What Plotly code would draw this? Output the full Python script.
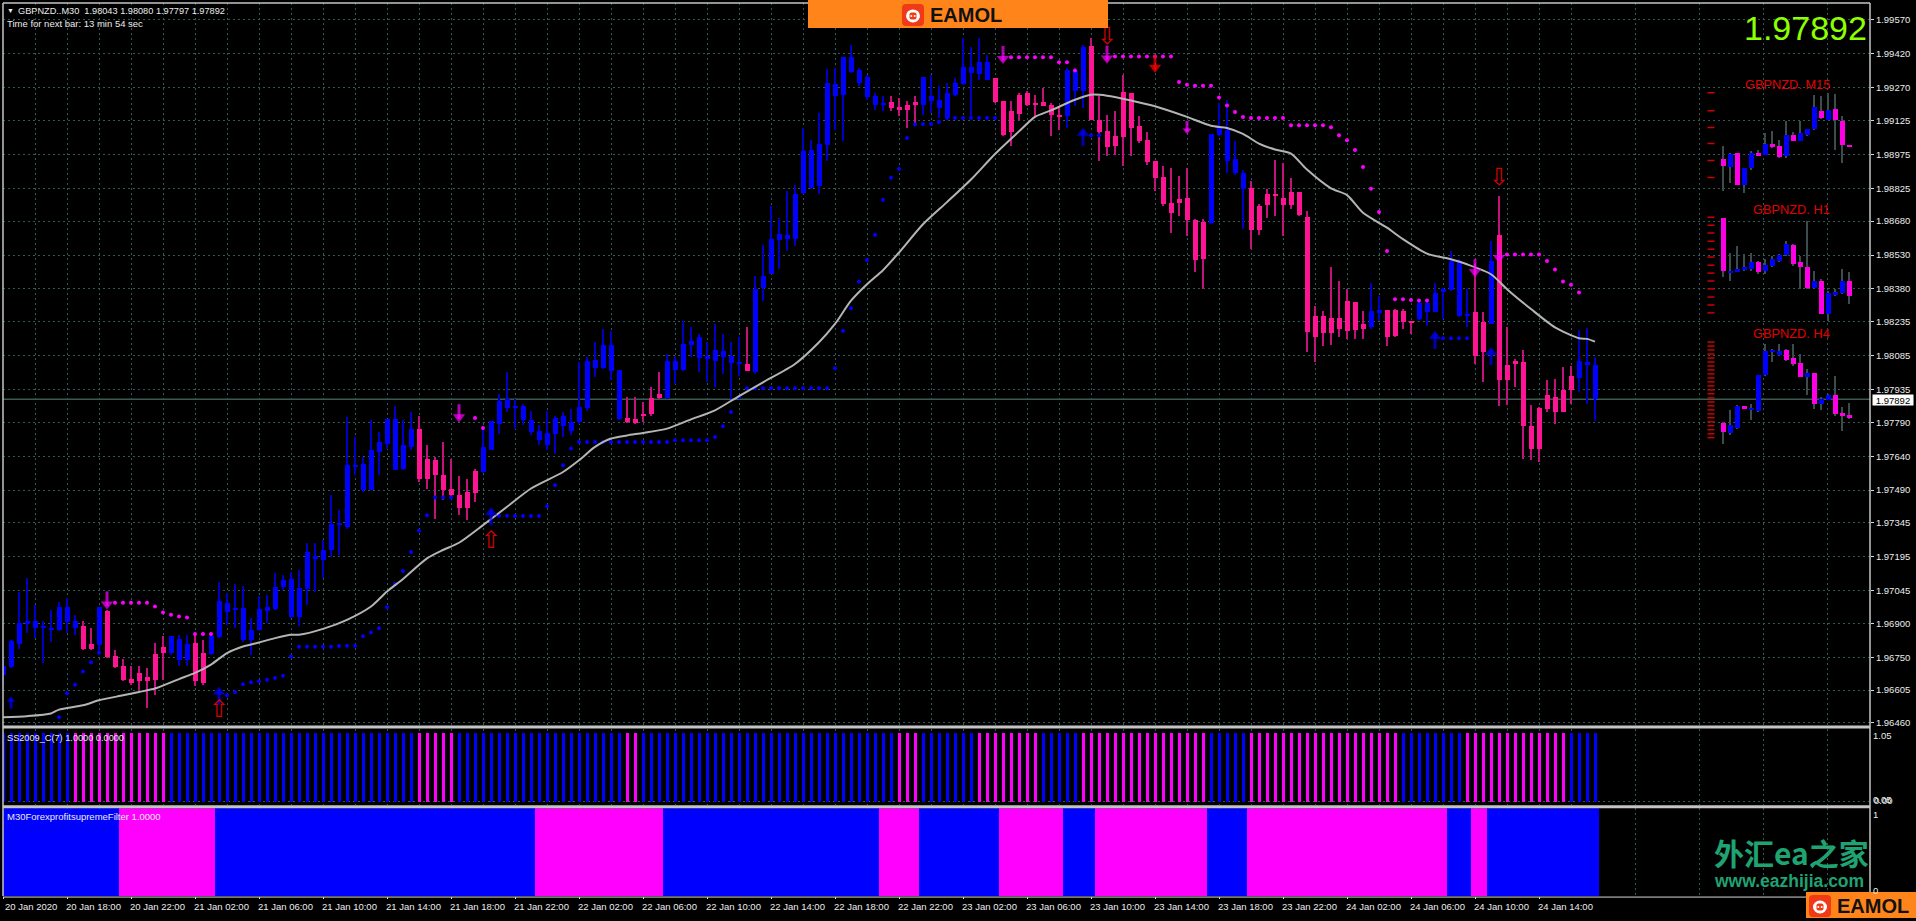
import plotly.graph_objects as go

W, H = 1916, 921
SCALE = 100000.0  # prices below are stored in points (price x 100000)

# ---------- main candles, 20-24 Jan 2020, M30 ----------
BODY_TOP = [
196710,196821,196901,196909,196913,196890,196882,196972,196975,196909,
196887,196809,196972,196956,196756,196710,196656,196681,196663,196765,
196796,196843,196831,196809,196813,196769,196843,197001,196992,196970,
196970,196869,196963,196972,197063,197092,197095,197056,197217,197198,
197225,197342,197345,197603,197603,197607,197666,197703,197805,197805,
197688,197761,197761,197629,197622,197558,197497,197470,197482,197573,
197680,197794,197886,197891,197864,197864,197801,197751,197742,197810,
197816,197791,197857,198063,198067,198132,198132,198022,197809,197803,
197828,197898,197916,198063,198063,198137,198151,198166,198082,198112,
198104,198085,198056,198048,198379,198438,198600,198622,198617,198798,
198992,198994,199023,199290,199288,199405,199405,199349,199317,199235,
199202,199205,199183,199195,199205,199317,199232,199217,199246,199290,
199361,199364,199382,199382,199313,199210,199168,199239,199246,199204,
199207,199195,199151,199349,199342,199452,199455,199129,199080,199055,
199251,199246,199099,199041,198948,198874,198758,198780,198783,198685,
198676,199067,199092,199085,198957,198894,198827,198747,198801,198801,
198783,198808,198808,198700,198261,198261,198251,198251,198325,198323,
198225,198281,198286,198286,198286,198281,198239,198317,198320,198361,
198379,198504,198504,198269,198276,198232,198504,198617,198044,198060,
198056,197773,197853,197912,197901,197931,197997,198063,198056,198043]
BODY_BOTTOM = [
196673,196706,196809,196898,196879,196879,196870,196869,196906,196879,
196787,196787,196803,196750,196707,196651,196637,196647,196647,196651,
196769,196769,196740,196740,196647,196637,196765,196840,196950,196959,
196828,196828,196872,196956,196965,197060,196928,196928,197053,197184,
197181,197225,197339,197325,197594,197489,197492,197658,197695,197578,
197582,197680,197538,197541,197555,197489,197470,197413,197413,197478,
197570,197666,197783,197852,197852,197798,197747,197710,197691,197739,
197772,197750,197791,197852,198029,198029,198019,197803,197791,197788,
197818,197825,197898,197897,198022,198022,198132,198075,198070,198063,
198081,198053,198047,198019,198012,198382,198445,198597,198603,198600,
198805,198827,198835,199019,199235,199239,199339,199290,199227,199193,
199193,199180,199173,199173,199195,199195,199213,199180,199136,199239,
199288,199335,199332,199305,199205,199063,199073,199155,199195,199195,
199191,199148,199143,199143,199254,199254,199129,199076,199007,199011,
199051,199092,199036,198942,198869,198754,198717,198758,198683,198508,
198514,198670,199063,198948,198894,198820,198639,198639,198751,198791,
198751,198751,198707,198188,198166,198184,198184,198203,198195,198198,
198203,198210,198275,198169,198170,198232,198231,198247,198276,198279,
198367,198376,198261,198261,198085,198100,198225,197979,197975,198050,
197772,197673,197671,197850,197835,197835,197931,197987,198044,197892]
HIGH = [
196747,196828,197041,197100,196982,196909,196960,196997,197012,196938,
196913,196882,196975,196960,196784,196743,196710,196710,196703,196812,
196843,196843,196850,196850,196850,196828,196857,197082,197034,197073,
197067,196923,197023,197026,197122,197114,197129,197137,197254,197254,
197269,197470,197401,197813,197725,197636,197798,197747,197805,197864,
197798,197835,197820,197688,197636,197703,197629,197553,197541,197585,
197769,197794,197916,198011,197894,197872,197842,197776,197838,197820,
197835,197850,198055,198077,198144,198203,198195,198022,197901,197901,
197879,197945,198012,198092,198085,198239,198210,198181,198144,198225,
198181,198144,198166,198210,198438,198573,198747,198695,198813,198842,
199092,199041,199158,199354,199357,199408,199460,199357,199327,199246,
199232,199232,199224,199210,199232,199317,199327,199276,199290,199313,
199489,199452,199489,199415,199313,199210,199210,199246,199254,199239,
199268,199202,199188,199357,199357,199460,199489,199232,199151,199166,
199327,199246,199143,199074,198948,198923,198916,198879,198916,198688,
198691,199067,199202,199217,199033,198908,198857,198754,198820,198952,
198938,198872,198808,198725,198306,198284,198475,198416,198379,198323,
198284,198406,198350,198286,198291,198291,198239,198335,198335,198408,
198386,198548,198514,198379,198489,198276,198592,198791,198210,198070,
198112,197868,197857,197979,197982,198034,198041,198198,198206,198080]
LOW = [
196629,196703,196788,196857,196835,196725,196820,196865,196857,196850,
196784,196784,196762,196747,196703,196647,196629,196607,196524,196585,
196651,196762,196710,196710,196622,196629,196762,196835,196894,196879,
196820,196762,196865,196901,196960,197048,196923,196887,196982,197041,
197100,197195,197203,197320,197555,197482,197489,197555,197673,197578,
197578,197666,197526,197497,197364,197445,197453,197379,197357,197438,
197567,197666,197739,197835,197761,197776,197732,197688,197666,197651,
197725,197732,197783,197842,197990,198026,197975,197798,197788,197784,
197791,197820,197894,197894,197960,198019,198078,198012,197968,197945,
198004,197894,197997,198019,198004,198328,198445,198467,198548,198570,
198802,198820,198798,198945,199085,199033,199335,199276,199217,199173,
199166,199166,199143,199092,199114,199151,199158,199136,199136,199232,
199283,199143,199305,199305,199202,199055,199011,199126,199188,199143,
199188,199055,199085,199092,199188,199180,199126,198945,198967,198974,
198923,198967,199026,198927,198813,198747,198629,198702,198614,198453,
198379,198666,199055,198894,198886,198647,198558,198617,198695,198702,
198614,198732,198702,198100,198056,198129,198132,198166,198159,198159,
198159,198203,198239,198129,198166,198203,198181,198244,198217,198276,
198247,198372,198254,198210,198048,197968,198225,197862,197865,197945,
197629,197622,197615,197835,197784,197835,197872,197926,197872,197797]

# colour state per bar, as (state, number of bars)
CANDLE_RUNS = [("B",10),("P",2),("B",1),("P",8),("B",3),("P",2),("B",26),("P",8),("B",18),("P",5),
               ("B",10),("P",1),("B",17),("P",4),("B",9),("P",9),("B",3),("P",15),("B",5),("P",15),
               ("B",2),("P",4),("B",7),("P",2),("B",1),("P",10),("B",3)]
SS2009_RUNS = [("B",9),("P",12),("B",31),("P",5),("B",21),("P",2),("B",32),("P",3),("B",7),("P",8),
               ("B",5),("P",16),("B",5),("P",19),("B",8),("P",13),("B",4)]
FILTER_RUNS = [("B",15),("P",12),("B",40),("P",16),("B",27),("P",5),("B",10),("P",8),("B",4),("P",14),
               ("B",5),("P",25),("B",3),("P",2),("B",14)]

# moving average, (bar, price)
MA_BAR = [0,3,6,7,10,12,15,17,19,22,24,26,28,30,32,34,36,37,40,43,46,48,50,53,55,57,60,63,66,70,72,74,76,78,
          80,83,86,89,92,95,99,102,104,106,108,110,112,115,118,121,124,127,129,131,134,136,138,141,144,148,151,
          153,155,157,159,161,163,166,168,170,173,175,178,181,183,186,188,191,194,197,198,199]
MA_PRICE = [196485,196490,196502,196519,196538,196560,196582,196597,196612,196654,196681,196718,196769,196798,
            196816,196835,196850,196850,196876,196916,196975,197041,197097,197188,197225,197257,197335,197416,
            197497,197570,197622,197681,197718,197732,197743,197762,197803,197843,197906,197967,198048,198144,
            198225,198328,198401,198463,198541,198666,198764,198864,198977,199077,199141,199170,199217,199239,
            199235,199214,199188,199141,199102,199092,199066,199023,198997,198979,198908,198825,198795,198717,
            198651,198600,198536,198511,198489,198445,198379,198291,198210,198162,198159,198147]

# stop dots
BLUE_DOT_BAR = list(range(7,13)) + list(range(28,57)) + list(range(62,125)) + [136,137] + list(range(180,184))
BLUE_DOT_PRICE = [196485,196591,196629,196688,196728,196772,
    196582,196596,196631,196640,196644,196651,196659,196669,196754,196797,196797,196797,196797,196797,196800,
    196801,196801,196843,196860,196879,196972,197075,197132,197216,197310,197379,197457,197457,197457,
    197376,197376,197375,197375,197375,197375,197419,197511,197600,197674,
    197703,197703,197703,197703,197703,197703,197703,197703,197703,197703,197703,197703,
    197710,197710,197710,197710,197710,197725,197773,197835,197901,
    197941,197941,197941,197941,197941,197941,197941,197941,197941,197941,197941,
    198029,198195,198294,198413,198508,198620,198775,198872,198911,199048,199107,199110,199110,199119,
    199136,199136,199136,199136,199136,199136,199136,
    199060,199060,198162,198162,198162,198162]
PINK_DOT_BAR = list(range(14,27)) + [59,60] + list(range(126,135)) + list(range(139,179)) + list(range(188,198))
PINK_DOT_PRICE = [196992,196992,196992,196992,196992,196975,196948,196938,196931,196926,196853,196853,196853,
    197809,197765,
    199405,199405,199405,199405,199405,199405,199383,199383,199346,
    199408,199408,199408,199408,199408,199408,199408,199408,199295,199283,199279,199279,199279,199227,199191,
    199163,199141,199136,199136,199136,199136,199136,199104,199104,199104,199104,199104,199095,199060,199038,
    198995,198919,198823,198720,198548,198334,198334,198331,198329,198329,
    198532,198532,198532,198532,198532,198504,198466,198413,198398,198364]

# signal arrows
BLUE_ARROW_BAR = [1,27,61,135,179,186]
BLUE_ARROW_PRICE = [196552,196582,197376,199055,198156,198085]
BLUE_ARROW_SIZE = [10,15,15,15,15,15]
PINK_ARROW_BAR = [13,57,125,138,148,184,187]
PINK_ARROW_PRICE = [197000,197828,199413,199415,199092,198470,198533]
PINK_ARROW_SIZE = [15,15,15,15,11,15,15]
RED_UP_BAR = [27,61]
RED_UP_PRICE = [196512,197261]
RED_DOWN_BAR = [138,187]
RED_DOWN_PRICE = [199489,198867]
RED_SOLID_BAR = [144]
RED_SOLID_PRICE = [199374]

# mini charts on the right
M15_TOP = [198955,198979,198982,198916,198982,198982,199023,199023,199011,199063,199063,199070,199088,199183,199168,199173,199176,199124,199019]
M15_BOTTOM = [198923,198919,198842,198839,198916,198967,198974,199008,198963,198967,199036,199033,199063,199088,199136,199129,199126,199019,199010]
M15_HIGH = [199011,198982,198982,198916,198989,198996,199070,199077,199041,199121,199073,199121,199088,199239,199232,199249,199243,199143,199019]
M15_LOW = [198813,198849,198842,198805,198908,198967,198974,199004,198960,198960,199033,199033,199058,199085,199132,199129,198996,198938,199010]
M15_FLAG = "PBPBBPBPPBPBBBPBPPP"
H1_TOP = [198695,198460,198470,198475,198501,198497,198485,198514,198529,198580,198576,198497,198479,198416,198416,198364,198367,198416,198416]
H1_BOTTOM = [198460,198453,198453,198464,198467,198453,198460,198482,198504,198529,198489,198475,198384,198384,198269,198269,198353,198364,198350]
H1_HIGH = [198695,198541,198570,198533,198541,198504,198511,198526,198533,198592,198580,198526,198680,198460,198423,198372,198379,198467,198453]
H1_LOW = [198431,198416,198453,198460,198460,198445,198445,198475,198497,198526,198482,198379,198379,198379,198269,198239,198350,198357,198313]
H1_FLAG = "PBBBBPBBBBPPPBPBBBP"
H4_TOP = [197788,197779,197862,197862,197850,198000,198106,198107,198106,198109,198073,198053,198009,198009,197891,197912,197912,197831,197823]
H4_BOTTOM = [197747,197743,197765,197847,197845,197840,198000,198104,198088,198067,198050,197992,197992,197869,197869,197887,197825,197818,197809]
H4_HIGH = [197791,197843,197865,197862,197872,198000,198137,198114,198137,198114,198137,198092,198026,198009,197901,197916,197997,197857,197875]
H4_LOW = [197696,197735,197762,197847,197798,197835,197997,198056,198085,198063,198041,197990,197909,197850,197843,197887,197820,197750,197803]
H4_FLAG = "PBBPBBBBBPPPBPBBPPP"

# red level ticks next to the mini charts
LEVEL_PRICE = [199248,199168,199094,199023,198948,198873,
    198697,198662,198627,198591,198556,198521,198485,198450,198415,198380,198344,198309,198274,
    198145,198127,198110,198092,198074,198057,198039,198022,198004,197986,197969,197951,197933,197916,197898,
    197880,197863,197845,197827,197810,197792,197775,197757,197739,197722]

# axis labels
PRICE_TICKS = [1.99570,1.99420,1.99270,1.99125,1.98975,1.98825,1.98680,1.98530,1.98380,1.98235,1.98085,1.97935,
               1.97790,1.97640,1.97490,1.97345,1.97195,1.97045,1.96900,1.96750,1.96605,1.96460]
TIME_LABELS = ["20 Jan 2020","20 Jan 18:00","20 Jan 22:00","21 Jan 02:00","21 Jan 06:00","21 Jan 10:00","21 Jan 14:00",
               "21 Jan 18:00","21 Jan 22:00","22 Jan 02:00","22 Jan 06:00","22 Jan 10:00","22 Jan 14:00","22 Jan 18:00",
               "22 Jan 22:00","23 Jan 02:00","23 Jan 06:00","23 Jan 10:00","23 Jan 14:00","23 Jan 18:00","23 Jan 22:00",
               "24 Jan 02:00","24 Jan 06:00","24 Jan 10:00","24 Jan 14:00"]
LAST_PRICE = 1.97892

# ---------- styles and layout ----------
BLUE, PINK, MAG = "#0000ff", "#ff1493", "#ff00ff"
BLUE_WICK, PINK_WICK = "#0000c4", "#c01278"
GRID = "#2f5a55"
DOT = "2px,3px"
LABEL = "#ececec"
FONT = "Liberation Sans"
LEFT, RIGHT = 3, 1870
TOP1, BOT1, TOP2, BOT2, TOP3, BOT3 = 3, 728, 731, 808, 811, 899
POINTS_PER_PX = (199645 - 196448) / (BOT1 - TOP1)

def px(x): return x / W
def py(y): return 1 - y / H
def expand(runs):
    out = []
    for state, n in runs:
        out += [state] * n
    return out
def price(seq): return [v / SCALE for v in seq]

n_bars = len(HIGH)
bars = list(range(n_bars))
fig = go.Figure()

def candles(xs, top, bot, hi, lo, flags, up, down, wick_up, wick_down, body_w, wick_w):
    fig.add_trace(go.Bar(x=xs, base=price(lo), y=[(h - l) / SCALE for h, l in zip(hi, lo)], width=wick_w,
                         marker=dict(color=[wick_up if f == "B" else wick_down for f in flags], line_width=0),
                         hoverinfo="skip", showlegend=False))
    fig.add_trace(go.Bar(x=xs, base=price(bot), y=[(t - b) / SCALE for t, b in zip(top, bot)], width=body_w,
                         offset=-body_w / 2 + 0.02,
                         marker=dict(color=[up if f == "B" else down for f in flags], line_width=0),
                         hoverinfo="skip", showlegend=False))

candles(bars, BODY_TOP, BODY_BOTTOM, HIGH, LOW, expand(CANDLE_RUNS), BLUE, PINK, BLUE_WICK, PINK_WICK, 0.64, 0.22)

mini_start, mini_step = 215.05, 0.875
mini_x = [mini_start + k * mini_step for k in range(19)]
for t, b, h, l, f in [(M15_TOP, M15_BOTTOM, M15_HIGH, M15_LOW, M15_FLAG),
                      (H1_TOP, H1_BOTTOM, H1_HIGH, H1_LOW, H1_FLAG),
                      (H4_TOP, H4_BOTTOM, H4_HIGH, H4_LOW, H4_FLAG)]:
    candles(mini_x, t, b, h, l, f, BLUE, "#ff00e6", "#3c4c4c", "#3c4c4c", 0.66, 0.16)

def dots(xs, ys, color, size=4):
    fig.add_trace(go.Scatter(x=xs, y=price(ys), mode="markers", hoverinfo="skip", showlegend=False,
                             marker=dict(color=color, size=size, line_width=0)))
dots(BLUE_DOT_BAR, BLUE_DOT_PRICE, BLUE)
dots(PINK_DOT_BAR, PINK_DOT_PRICE, MAG)

fig.add_trace(go.Scatter(x=MA_BAR, y=price(MA_PRICE), mode="lines", hoverinfo="skip", showlegend=False,
                         line=dict(color="#b4b4b4", width=2, shape="spline", smoothing=0.7)))

def arrows(xs, ys, direction, color, sizes):
    # a solid signal arrow: a triangular head on a short stem, centred on the signal price
    head_y = [(v + direction * 0.22 * s * POINTS_PER_PX) / SCALE for v, s in zip(ys, sizes)]
    stem_y = [(v - direction * 0.14 * s * POINTS_PER_PX) / SCALE for v, s in zip(ys, sizes)]
    fig.add_trace(go.Scatter(x=xs, y=stem_y, mode="markers", hoverinfo="skip", showlegend=False,
                             marker=dict(symbol="line-ns", size=[s * 0.7 for s in sizes], line=dict(color=color, width=3))))
    fig.add_trace(go.Scatter(x=xs, y=head_y, mode="markers", hoverinfo="skip", showlegend=False,
                             marker=dict(symbol="triangle-up" if direction > 0 else "triangle-down",
                                         size=[s * 0.72 for s in sizes], color=color, line_width=0)))
def hollow(xs, ys, glyph):
    fig.add_trace(go.Scatter(x=xs, y=price(ys), mode="text", text=[glyph] * len(xs), hoverinfo="skip", showlegend=False,
                             textposition="middle center",
                             textfont=dict(family="DejaVu Sans", size=24, color="#d80000")))
arrows(BLUE_ARROW_BAR, BLUE_ARROW_PRICE, 1, BLUE, BLUE_ARROW_SIZE)
arrows(PINK_ARROW_BAR, PINK_ARROW_PRICE, -1, MAG, PINK_ARROW_SIZE)
hollow(RED_UP_BAR, RED_UP_PRICE, "\u21e7")
hollow(RED_DOWN_BAR, RED_DOWN_PRICE, "\u21e9")
arrows(RED_SOLID_BAR, RED_SOLID_PRICE, -1, "#ff0000", [15])

fig.add_trace(go.Scatter(x=[213.5] * len(LEVEL_PRICE), y=price(LEVEL_PRICE), mode="markers", hoverinfo="skip", showlegend=False,
                         marker=dict(symbol="line-ew", size=5, color="#d00000", line=dict(width=1.5, color="#d00000"))))

# SS2009 pane
ss = expand(SS2009_RUNS)
fig.add_trace(go.Bar(x=bars, y=[1] * n_bars, width=0.375, offset=-0.16, yaxis="y2", hoverinfo="skip", showlegend=False,
                     marker=dict(color=[BLUE if f == "B" else MAG for f in ss], line_width=0)))
# filter pane
fl = expand(FILTER_RUNS)
fig.add_trace(go.Bar(x=bars, y=[1] * n_bars, width=1, yaxis="y3", hoverinfo="skip", showlegend=False,
                     marker=dict(color=[BLUE if f == "B" else MAG for f in fl], line_width=0)))

shapes = []
def line(x0, y0, x1, y1, color="#c4c4c4", width=1.5, dash="solid"):
    shapes.append(dict(type="line", xref="paper", yref="paper", x0=px(x0), y0=py(y0), x1=px(x1), y1=py(y1),
                       line=dict(color=color, width=width, dash=dash)))
def rect(x0, y0, x1, y1, color):
    shapes.append(dict(type="rect", xref="paper", yref="paper", x0=px(x0), y0=py(y0), x1=px(x1), y1=py(y1),
                       fillcolor=color, line_width=0))
def rounded(cx, cy, half, rad, color):
    # rounded square in paper fractions
    l, r, t, b = px(cx - half), px(cx + half), py(cy - half), py(cy + half)
    dx, dy = px(rad), rad / H
    path = (f"M {l+dx},{t} L {r-dx},{t} Q {r},{t} {r},{t-dy} L {r},{b+dy} Q {r},{b} {r-dx},{b} "
            f"L {l+dx},{b} Q {l},{b} {l},{b+dy} L {l},{t-dy} Q {l},{t} {l+dx},{t} Z")
    shapes.append(dict(type="path", xref="paper", yref="paper", path=path, fillcolor=color, line_width=0))
def circle(cx, cy, rx, ry, color):
    shapes.append(dict(type="circle", xref="paper", yref="paper", x0=px(cx - rx), y0=py(cy - ry), x1=px(cx + rx), y1=py(cy + ry),
                       fillcolor=color, line_width=0))

shapes.append(dict(type="line", xref="paper", yref="y", x0=px(LEFT), x1=px(RIGHT), y0=LAST_PRICE, y1=LAST_PRICE,
                   layer="below", line=dict(color="#3a5a52", width=1.5)))
line(LEFT, TOP1, RIGHT, TOP1)
line(LEFT, TOP1, LEFT, BOT3)
line(RIGHT, TOP1, RIGHT, BOT3)
line(LEFT, 729.5, RIGHT, 729.5, width=3)
line(LEFT, 809.5, RIGHT, 809.5, width=3)
line(LEFT, BOT3 + 1, RIGHT, BOT3 + 1, color="#d8d8d8", width=1)

# banner, bottom-right badge and logo icons
rect(808, 0, 1108, 28, "#ff851b")
rect(1806, 895, 1916, 921, "#ff851b")
for cx, cy in [(913, 15), (1820, 909)]:
    rounded(cx, cy, 11, 4, "#f03a17")
    circle(cx, cy + 1, 7, 6.5, "#ffffff")
    rounded(cx, cy + 1, 3.5, 2, "#f03a17")
    circle(cx - 1.7, cy + 1, 1, 1, "#ffffff")
    circle(cx + 1.7, cy + 1, 1, 1, "#ffffff")

annotations = []
def note(text, x, y, size=9.5, color=LABEL, anchor="left", weight=None, family=FONT, **kw):
    f = dict(family=family, size=size, color=color)
    if weight:
        f["weight"] = weight
    annotations.append(dict(text=text, x=px(x), y=py(y), xref="paper", yref="paper", xanchor=anchor, yanchor="middle",
                            showarrow=False, font=f, borderpad=0, **kw))

note("\u25bc", 6, 11, size=7)
note("GBPNZD..M30\u00a0\u00a01.98043 1.98080 1.97797 1.97892", 17, 11, size=9.2)
note("Time for next bar: 13 min 54 sec", 6, 24, size=9.5)
note("SS2009_C(7) 1.0000 0.0000", 6, 740, size=9.2)
note("M30ForexprofitsupremeFilter 1.0000", 6, 819, size=9.5)
note("EAMOL", 929, 15, size=20, color="#111111", weight="bold")
note("EAMOL", 1836, 909, size=20, color="#111111", weight="bold")
note("1.97892", 1868, 28, size=34, color="#8cff00", anchor="right")
note("GBPNZD. M15", 1831, 85, size=12.8, color="#e00000", anchor="right")
note("GBPNZD. H1", 1831, 210, size=12.8, color="#e00000", anchor="right")
note("GBPNZD. H4", 1831, 335, size=12.8, color="#e00000", anchor="right")
note("1.05", 1872, 738, size=9.5)
note("0.05", 1872, 802, size=9.5)
note("0.00", 1873, 803, size=9.5)
note("1", 1872, 817, size=9.5)
note("0", 1872, 893, size=9.5)
note("1.97892", 1893, 401, size=9.5, color="#000000", anchor="center", bgcolor="#ffffff", width=40, height=10)
note("\u5916\u6c47ea\u4e4b\u5bb6", 1713, 855, size=30, color="#1fa372", weight="bold", family="Noto Sans CJK SC")
note("www.eazhijia.com", 1713, 884, size=17.5, color="#1fa372", weight="bold")

time_ticks = [0] + [8 * k for k in range(1, len(TIME_LABELS))]
for t, lab in zip(time_ticks, TIME_LABELS):
    annotations.append(dict(text=lab, x=t, y=py(909), xref="x", yref="paper", xanchor="left", yanchor="middle",
                            xshift=0 if t == 0 else -3, showarrow=False, font=dict(family=FONT, size=9.5, color=LABEL)))

x_range = [0, (RIGHT - LEFT) / 8]
fig.update_layout(
    width=W, height=H, margin=dict(l=0, r=0, t=0, b=0), paper_bgcolor="#000000", plot_bgcolor="#000000",
    barmode="overlay", bargap=0, showlegend=False, shapes=shapes, annotations=annotations,
    xaxis=dict(domain=[px(LEFT), px(RIGHT)], range=x_range, anchor="y3", showline=False, zeroline=False,
               tickvals=time_ticks, showticklabels=False, ticks="outside", ticklen=2, tickcolor="#d8d8d8",
               showgrid=True, gridcolor=GRID, griddash=DOT, gridwidth=1,
               minor=dict(tickvals=[4 * k for k in range(0, 59) if k % 2], showgrid=True, gridcolor=GRID,
                          griddash=DOT, gridwidth=1, ticks="")),
    yaxis=dict(domain=[py(BOT1), py(TOP1)], range=[1.96448, 1.99645], anchor="x", side="right", zeroline=False,
               tickvals=PRICE_TICKS, tickformat=".5f", ticks="outside", ticklen=3, tickcolor="#d8d8d8",
               tickfont=dict(family=FONT, size=9.5, color=LABEL), showgrid=True, gridcolor=GRID,
               griddash=DOT, gridwidth=1),
    yaxis2=dict(domain=[py(BOT2), py(TOP2)], range=[-0.058, 1.058], anchor="x", side="right", zeroline=False,
                tickvals=[0], showticklabels=False, showgrid=True, gridcolor=GRID, griddash=DOT),
    yaxis3=dict(domain=[py(BOT3), py(TOP3)], range=[0, 1], anchor="x", side="right", zeroline=False,
                tickvals=[], showticklabels=False, showgrid=False),
)

fig.write_html("out.html", config={"displayModeBar": False},
               post_script="document.body.style.margin='0';document.body.style.overflow='hidden';")
